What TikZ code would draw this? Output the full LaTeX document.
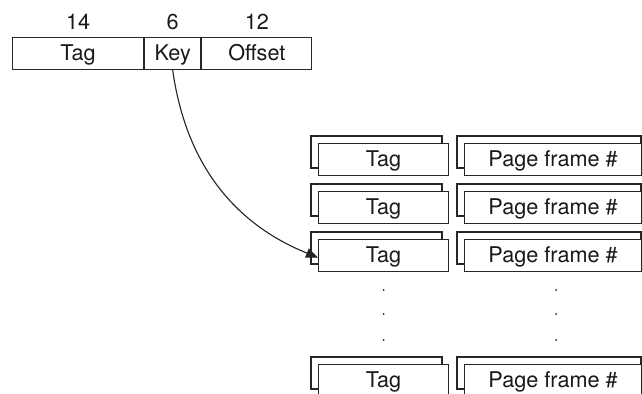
\documentclass[tikz,border=0pt]{standalone}
\usepackage{fontspec}
\setmainfont{TeX Gyre Heros}
\usetikzlibrary{arrows.meta,positioning}
\tikzset{
  field/.style={draw=black!85, line width=0.8pt, fill=white, minimum height=8mm, inner sep=0pt, text height=4.2mm, text depth=0.7mm, text=black!90, font=\fontsize{15.4}{17}\selectfont},
  back/.style={draw=black!85, line width=0.8pt, fill=white},
  num/.style={inner sep=0pt, text=black!90, font=\fontsize{15.4}{17}\selectfont},
  dotn/.style={circle, fill=black!85, inner sep=0pt, minimum size=0.5mm},
  conn/.style={-{Triangle[length=3mm,width=2.4mm]}, line width=0.8pt, draw=black!85},
}
\begin{document}
\begin{tikzpicture}[x=0.25mm, y=-0.25mm]
  \useasboundingbox (0,0) rectangle (642,393);
  \clip (0,0) rectangle (642,393);
  % virtual address fields
  \node[field, minimum width=32.75mm, anchor=north west] (ftag) at (12,37) {Tag};
  \node[field, minimum width=14mm, right=0pt of ftag] (fkey) {Key};
  \node[field, minimum width=27.5mm, right=0pt of fkey] (foff) {Offset};
  \node[num] (ntag) at (ftag |- 0,21.5) {14};
  \node[num] (nkey) at (fkey |- 0,21.5) {6};
  \node[num] (noff) at (foff |- 0,21.5) {12};
  % table entries
  \foreach \r/\y in {1/143,2/191,3/239,4/364}{
    \draw[back] (311,\y-7) rectangle (442,\y+25);
    \draw[back] (457,\y-7) rectangle (641,\y+25);
    \node[field, minimum width=32.5mm, anchor=north west] (tag\r) at (318,\y) {Tag};
    \node[field, minimum width=44.25mm, anchor=north west] (pf\r) at (464,\y) {Page frame \#};
  }
  \foreach \d/\y in {1/290,2/314,3/340}{
    \node[dotn] (tdot\d) at (tag1 |- 0,\y) {};
    \node[dotn] (pdot\d) at (556,\y) {};
  }
  % key lookup
  \draw[conn] (fkey.south) to[out=-82, in=158] ([yshift=-0.5mm]tag3.west);
\end{tikzpicture}
\end{document}
